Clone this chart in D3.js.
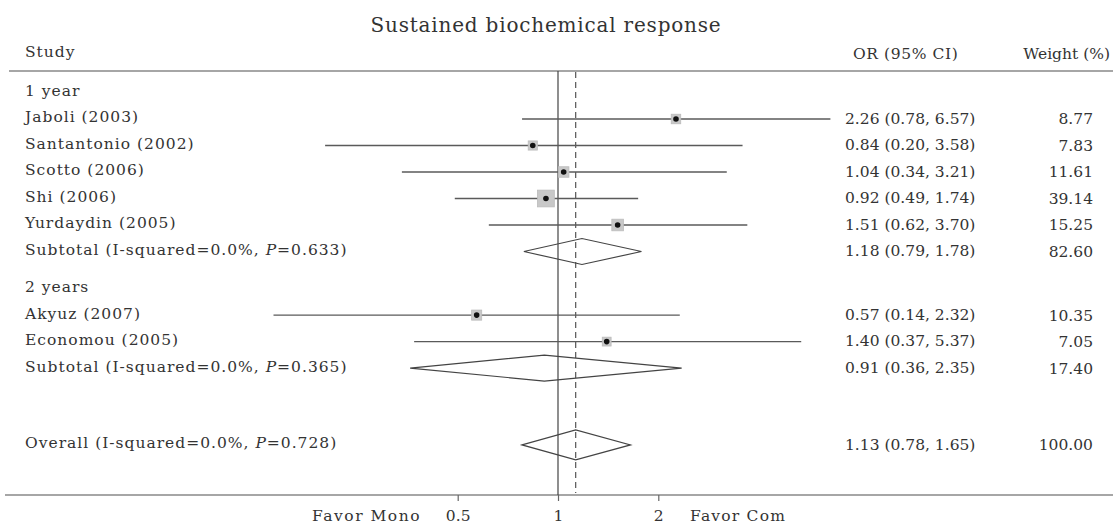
<!DOCTYPE html>
<html>
<head>
<meta charset="utf-8">
<script src="https://cdn.jsdelivr.net/npm/d3@7"></script>
<style>
  html, body { margin: 0; padding: 0; background: #fff; }
  svg { display: block; }
  text { font-family: "DejaVu Serif", serif; fill: #333; }
</style>
</head>
<body>
<svg id="chart" width="1113" height="525"></svg>
<script>
// ---------------- DATA ----------------
const titleText = "Sustained biochemical response";
const rowLabels = [
  "1 year",
  "Jaboli (2003)",
  "Santantonio (2002)",
  "Scotto (2006)",
  "Shi (2006)",
  "Yurdaydin (2005)",
  "Subtotal (I-squared=0.0%, P=0.633)",
  "2 years",
  "Akyuz (2007)",
  "Economou (2005)",
  "Subtotal (I-squared=0.0%, P=0.365)",
  "Overall (I-squared=0.0%, P=0.728)"
];
const rowTypes = ["group","study","study","study","study","study","subtotal",
                  "group","study","study","subtotal","overall"];
const orValues = [null, 2.26, 0.84, 1.04, 0.92, 1.51, 1.18, null, 0.57, 1.40, 0.91, 1.13];
const ciLower  = [null, 0.78, 0.20, 0.34, 0.49, 0.62, 0.79, null, 0.14, 0.37, 0.36, 0.78];
const ciUpper  = [null, 6.57, 3.58, 3.21, 1.74, 3.70, 1.78, null, 2.32, 5.37, 2.35, 1.65];
const weights  = [null, 8.77, 7.83, 11.61, 39.14, 15.25, 82.60, null, 10.35, 7.05, 17.40, 100.00];
const tickValues = [0.5, 1, 2];
const tickLabels = ["0.5", "1", "2"];
const overallOR = 1.13;
const leftAxisLabel = "Favor Mono";
const rightAxisLabel = "Favor Com";
const headerStudy = "Study";
const headerOR = "OR (95% CI)";
const headerWeight = "Weight (%)";

// ---------------- LAYOUT ----------------
const svg = d3.select("#chart");
const fmt = d3.format(".2f");

const rowPos = [];
{
  let p = 0;
  rowTypes.forEach((t, i) => {
    if (i > 0) {
      if (t === "group") p += 1.4;
      else if (t === "overall") p += 2.9;
      else p += 1;
    }
    rowPos.push(p);
  });
}
const y = d3.scaleLinear().domain([0, 1]).range([92.5, 119]);
const x = d3.scaleLog().base(2).domain([0.5, 2]).range([457.7, 658.3]);

const topY = 71, axisY = 495;

// title & headers
svg.append("text").attr("x", 546).attr("y", 32).attr("text-anchor", "middle")
  .style("font-size", "20px").style("letter-spacing", "0.8px").text(titleText);
svg.append("text").attr("x", 25).attr("y", 57)
  .style("font-size", "15.5px").style("letter-spacing", "1px").text(headerStudy);
svg.append("text").attr("x", 853).attr("y", 59)
  .style("font-size", "15.5px").style("letter-spacing", "0.6px").text(headerOR);
svg.append("text").attr("x", 1110).attr("y", 59).attr("text-anchor", "end")
  .style("font-size", "15.5px").text(headerWeight);

// header rule & axis rule
svg.append("line").attr("x1", 9).attr("x2", 1113).attr("y1", topY).attr("y2", topY)
  .attr("stroke", "#888").attr("stroke-width", 1.6);
svg.append("line").attr("x1", 5).attr("x2", 1113).attr("y1", axisY).attr("y2", axisY)
  .attr("stroke", "#888").attr("stroke-width", 1.6);

// reference lines
svg.append("line").attr("x1", x(1)).attr("x2", x(1)).attr("y1", topY).attr("y2", axisY)
  .attr("stroke", "#444").attr("stroke-width", 1.2);
svg.append("line").attr("x1", x(overallOR)).attr("x2", x(overallOR)).attr("y1", topY + 1).attr("y2", axisY - 2)
  .attr("stroke", "#555").attr("stroke-width", 1.2).attr("stroke-dasharray", "6,4");

const rows = rowLabels.map((label, i) => ({
  label, type: rowTypes[i], or: orValues[i], lo: ciLower[i], hi: ciUpper[i],
  w: weights[i], pos: rowPos[i]
}));

// labels (with italic P)
rows.forEach(r => {
  const t = svg.append("text").attr("x", 25).attr("y", y(r.pos)).attr("dy", "0.22em")
    .style("font-size", "15.5px").style("letter-spacing", "1px");
  const idx = r.label.indexOf("P=");
  if (idx >= 0) {
    t.append("tspan").text(r.label.slice(0, idx));
    t.append("tspan").style("font-style", "italic").text("P");
    t.append("tspan").text(r.label.slice(idx + 1));
  } else {
    t.text(r.label);
  }
});

const dataRows = rows.filter(r => r.or !== null);

const studyRows = dataRows.filter(r => r.type === "study");
const boxSide = d => 3 + 2.2 * Math.sqrt(d.w);
svg.selectAll(".ci").data(studyRows).join("line").attr("class", "ci")
  .attr("x1", d => x(d.lo)).attr("x2", d => x(d.hi))
  .attr("y1", d => y(d.pos)).attr("y2", d => y(d.pos))
  .attr("stroke", "#5a5a5a").attr("stroke-width", 1.4);
svg.selectAll(".box").data(studyRows).join("rect").attr("class", "box")
  .attr("x", d => x(d.or) - boxSide(d) / 2)
  .attr("y", d => y(d.pos) - boxSide(d) / 2)
  .attr("width", boxSide).attr("height", boxSide)
  .attr("fill", "#c8c8c8").attr("stroke", "#bbb").attr("stroke-width", 0.8);
svg.selectAll(".dot").data(studyRows).join("circle").attr("class", "dot")
  .attr("cx", d => x(d.or)).attr("cy", d => y(d.pos)).attr("r", 2.8)
  .attr("fill", "#111");

// diamonds
const diamondRows = dataRows.filter(r => r.type !== "study");
svg.selectAll(".diamond").data(diamondRows).join("path").attr("class", "diamond")
  .attr("d", d => {
    const h = d.type === "overall" ? 15 : 13;
    const cy = y(d.pos);
    return `M${x(d.lo)},${cy}L${x(d.or)},${cy - h}L${x(d.hi)},${cy}L${x(d.or)},${cy + h}Z`;
  })
  .attr("fill", "none").attr("stroke", "#444").attr("stroke-width", 1.2);

// right columns
svg.selectAll(".ortext").data(dataRows).join("text").attr("class", "ortext")
  .attr("x", 845).attr("y", d => y(d.pos)).attr("dy", "0.3em")
  .style("font-size", "15.5px")
  .text(d => `${fmt(d.or)} (${fmt(d.lo)}, ${fmt(d.hi)})`);
svg.selectAll(".wtext").data(dataRows).join("text").attr("class", "wtext")
  .attr("x", 1093).attr("y", d => y(d.pos)).attr("dy", "0.35em")
  .attr("text-anchor", "end").style("font-size", "15.5px")
  .text(d => fmt(d.w));

// axis
const axis = d3.axisBottom(x).tickValues(tickValues)
  .tickFormat((d, i) => tickLabels[i]).tickSize(6).tickPadding(9);
const gAxis = svg.append("g").attr("transform", `translate(0,${axisY})`).call(axis);
gAxis.select(".domain").remove();
gAxis.selectAll(".tick line").attr("stroke", "#666").attr("stroke-width", 1.2);
gAxis.selectAll(".tick text").attr("fill", "#333")
  .style("font-family", "DejaVu Serif, serif").style("font-size", "15.5px");

svg.append("text").attr("x", 421).attr("y", 521).attr("text-anchor", "end")
  .style("font-size", "15.5px").style("letter-spacing", "1.5px").text(leftAxisLabel);
svg.append("text").attr("x", 690).attr("y", 521)
  .style("font-size", "15.5px").style("letter-spacing", "1.2px").text(rightAxisLabel);
</script>
</body>
</html>
